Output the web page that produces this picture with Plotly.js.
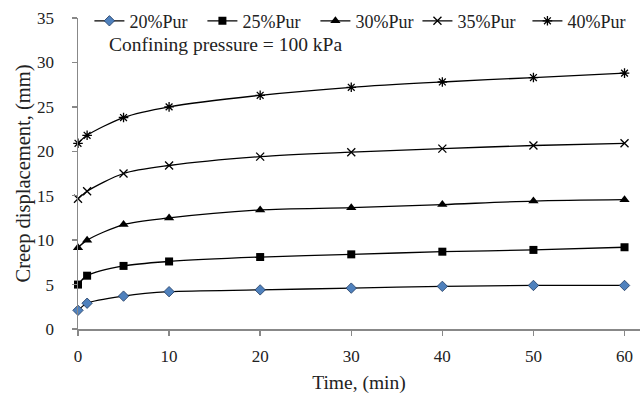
<!DOCTYPE html>
<html><head><meta charset="utf-8">
<script src="https://cdn.plot.ly/plotly-3.0.1.min.js"></script>
<style>html,body{margin:0;padding:0;background:#fff}</style>
</head><body>
<div id="chart" style="width:643px;height:403px"></div>
<script>
const time = [0, 1, 5, 10, 20, 30, 40, 50, 60];
const pur20 = [2.1, 2.9, 3.7, 4.2, 4.4, 4.6, 4.8, 4.9, 4.9];
const pur25 = [5.0, 6.0, 7.1, 7.6, 8.1, 8.4, 8.7, 8.9, 9.2];
const pur30 = [9.15, 10.0, 11.75, 12.5, 13.4, 13.65, 14.0, 14.4, 14.55];
const pur35 = [14.65, 15.5, 17.5, 18.4, 19.4, 19.9, 20.3, 20.65, 20.9];
const pur40 = [20.9, 21.8, 23.8, 25.0, 26.3, 27.2, 27.8, 28.3, 28.8];
const names = ['20%Pur', '25%Pur', '30%Pur', '35%Pur', '40%Pur'];
const xTicks = [0, 10, 20, 30, 40, 50, 60];

const FAM = 'Liberation Serif, Times New Roman, serif';
const TXT = '#222';
const line = {color: '#000', width: 1.3, shape: 'spline', smoothing: 0.8};
const mk = [
  {symbol: 'diamond', size: 8, color: '#4F81BD', line: {color: '#1F3A5F', width: 0.8}},
  {symbol: 'square', size: 8, color: '#000'},
  {symbol: 'triangle-up', size: 9, color: '#000'},
  {symbol: 'x-thin-open', size: 8, color: '#000', line: {color: '#000', width: 1.3}},
  {symbol: 'asterisk-open', size: 8, color: '#000', line: {color: '#000', width: 1.3}}
];
const legendIds = ['legend', 'legend', 'legend', 'legend2', 'legend3'];
const series = [pur20, pur25, pur30, pur35, pur40];
const data = series.map((s, i) => ({
  x: time, y: s, name: names[i], type: 'scatter', mode: 'lines+markers',
  line: line, marker: mk[i], cliponaxis: false,
  legend: legendIds[i]
}));

const legBase = {orientation: 'h', xanchor: 'left', y: 0.99, yanchor: 'middle',
  font: {family: FAM, size: 18, color: TXT}, bgcolor: 'rgba(0,0,0,0)',
  traceorder: 'normal', entrywidth: 68, entrywidthmode: 'pixels'};

const layout = {
  width: 643, height: 403,
  margin: {l: 78, r: 3, t: 16, b: 74},
  paper_bgcolor: '#fff', plot_bgcolor: '#fff',
  font: {family: FAM, size: 17, color: TXT},
  showlegend: true,
  legend: Object.assign({}, legBase, {x: 0.0203}),
  legend2: Object.assign({}, legBase, {x: 0.604}),
  legend3: Object.assign({}, legBase, {x: 0.7997, entrywidth: 0}),
  xaxis: {range: [0, 61.7], tickvals: xTicks, showgrid: false, zeroline: false,
          showline: true, linecolor: '#888', linewidth: 1.5, ticks: 'outside', ticklen: 5,
          tickcolor: '#888', tickwidth: 1.5, ticklabelstandoff: 6,
          tickfont: {family: FAM, size: 17, color: TXT},
          title: {text: 'Time, (min)', font: {family: FAM, size: 19.5, color: TXT}, standoff: 10}},
  yaxis: {range: [0, 35], dtick: 5, showgrid: false, zeroline: false,
          showline: true, linecolor: '#888', linewidth: 1.5, ticks: 'outside', ticklen: 5,
          tickcolor: '#888', tickwidth: 1.5, ticklabelstandoff: 14,
          tickfont: {family: FAM, size: 17, color: TXT},
          title: {text: 'Creep displacement, (mm)', font: {family: FAM, size: 20.5, color: TXT}, standoff: 1}},
  annotations: [{text: 'Confining pressure = 100 kPa', xref: 'paper', yref: 'paper',
                 x: 0.052, y: 0.915, xanchor: 'left', yanchor: 'middle', showarrow: false,
                 font: {family: FAM, size: 19.5, color: TXT}}]
};
Plotly.newPlot('chart', data, layout, {staticPlot: true});
</script>
</body></html>
